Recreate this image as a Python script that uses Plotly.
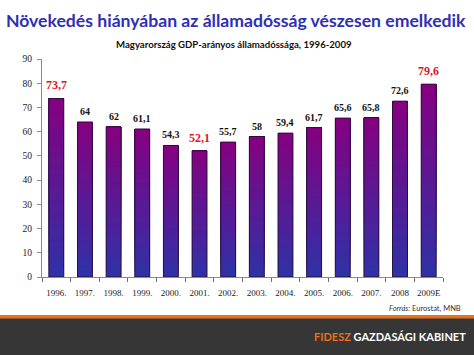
import plotly.graph_objects as go

categories = ["1996.", "1997.", "1998.", "1999.", "2000.", "2001.", "2002.",
              "2003.", "2004.", "2005.", "2006.", "2007.", "2008", "2009E"]
debt_ratio = [73.7, 64, 62, 61.1, 54.3, 52.1, 55.7, 58, 59.4, 61.7, 65.6, 65.8, 72.6, 79.6]
highlight = [True, False, False, False, False, True, False, False, False, False, False, False, False, True]
y_ticks = [0, 10, 20, 30, 40, 50, 60, 70, 80, 90]

W, H = 474, 355
L, R, T, B = 42, 31, 59, 78
PW, PH = W - L - R, H - T - B


def px_x(px):
    return (px - L) / PW


def px_y(py):
    return (H - B - py) / PH


def lerp(c1, c2, t):
    return "rgb(%d,%d,%d)" % tuple(round(a + (b - a) * t) for a, b in zip(c1, c2))


bottom_col = (46, 50, 168)
top_col = (134, 0, 128)
N = 30
bar_w = 0.52
idx = list(range(len(categories)))
serif = "Times New Roman, Liberation Serif, serif"

fig = go.Figure()
for k in range(N):
    t = (k + 0.5) / N
    fig.add_trace(go.Bar(
        x=idx,
        base=[v * k / N for v in debt_ratio],
        y=[v * (N - k) / N for v in debt_ratio],
        width=bar_w,
        marker=dict(color=lerp(bottom_col, top_col, t), line=dict(width=0)),
        hoverinfo="skip", showlegend=False,
    ))
fig.add_trace(go.Bar(
    x=idx, y=debt_ratio, width=bar_w,
    marker=dict(color="rgba(0,0,0,0)", line=dict(color="#2a1038", width=1)),
    showlegend=False,
))

for i, v, h in zip(idx, debt_ratio, highlight):
    fig.add_annotation(
        x=i, y=v, xref="x", yref="y", yanchor="bottom", yshift=4 if h else 3,
        text="<b>" + ("%g" % v).replace(".", ",") + "</b>", showarrow=False,
        font=dict(family=serif, size=12 if h else 10,
                  color="#e0141e" if h else "#111111"),
    )

# header texts
fig.add_annotation(x=px_x(236), y=px_y(21), xref="paper", yref="paper", xanchor="center", yanchor="middle",
                   showarrow=False,
                   text="Növekedés hiányában az államadósság vészesen emelkedik",
                   font=dict(family="Lato", size=17.6, color="#2f2fb4", weight="bold"))
fig.add_annotation(x=px_x(234), y=px_y(44), xref="paper", yref="paper", xanchor="center", yanchor="middle",
                   showarrow=False,
                   text="Magyarország GDP-arányos államadóssága, 1996-2009",
                   font=dict(family="Lato", size=9.6, color="#111111", weight="bold"))
fig.add_annotation(x=px_x(463), y=px_y(308), xref="paper", yref="paper", xanchor="right", yanchor="middle",
                   showarrow=False, text="<i>Forrás:</i> Eurostat, MNB",
                   font=dict(family="Lato", size=7.5, color="#333333"))

# footer band
fig.add_shape(type="rect", xref="paper", yref="paper", x0=px_x(-2), x1=px_x(W + 2), y0=px_y(318), y1=px_y(H + 2),
              fillcolor="#363636", line=dict(width=0), layer="below")
fig.add_shape(type="rect", xref="paper", yref="paper", x0=px_x(-2), x1=px_x(W + 2), y0=px_y(315), y1=px_y(318.5),
              fillcolor="#e8701e", line=dict(width=0), layer="below")
fig.add_annotation(x=px_x(468), y=px_y(336), xref="paper", yref="paper", xanchor="right", yanchor="middle",
                   showarrow=False,
                   text="<span style='color:#e8701e'>FIDESZ</span> GAZDASÁGI KABINET",
                   font=dict(family="Lato", size=11, color="#ffffff", weight="bold"))

fig.update_layout(
    width=W, height=H,
    margin=dict(l=L, r=R, t=T, b=B, pad=0),
    barmode="overlay",
    paper_bgcolor="white", plot_bgcolor="white",
    showlegend=False,
    xaxis=dict(range=[-0.5, len(categories) - 0.5], showgrid=False, zeroline=False,
               tickmode="array", tickvals=idx, ticktext=categories, tickangle=0,
               showline=True, linecolor="#8a8a8a", linewidth=1,
               ticks="", ticklabelstandoff=7,
               tickfont=dict(family=serif, size=9, color="#222222"),
               minor=dict(tickmode="array", tickvals=[i - 0.5 for i in idx] + [len(idx) - 0.5],
                          ticks="outside", ticklen=4, tickwidth=1, tickcolor="#6a6a6a", showgrid=False),
               fixedrange=True),
    yaxis=dict(range=[0, 90], tickvals=y_ticks, showgrid=False, zeroline=False,
               showline=True, linecolor="#8a8a8a", linewidth=1,
               ticks="outside", ticklen=4, tickcolor="#8a8a8a", ticklabelstandoff=3,
               tickfont=dict(family=serif, size=9.5, color="#222222"), fixedrange=True),
)

fig.write_html("out.html", config=dict(displayModeBar=False),
               post_script="document.body.style.margin='0';")
